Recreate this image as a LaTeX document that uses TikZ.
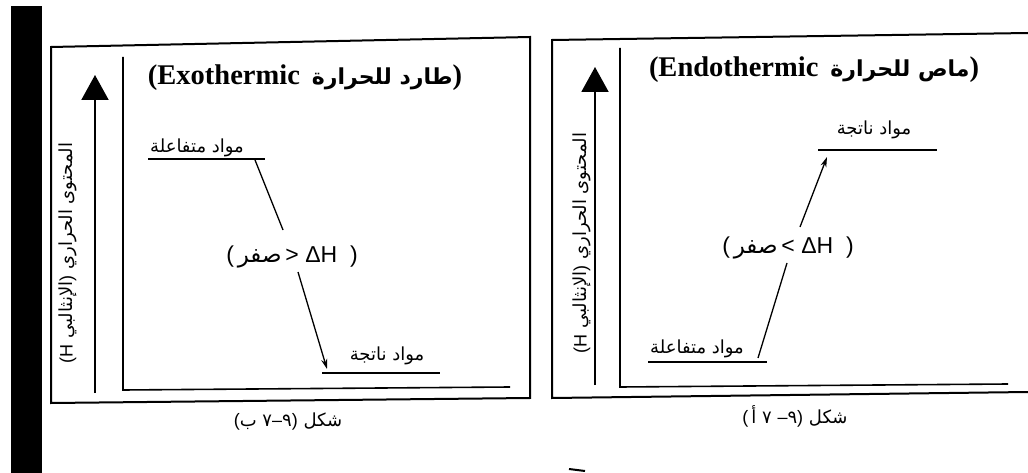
\documentclass[tikz,border=0pt]{standalone}
\usepackage{fontspec}
\setmainfont{Liberation Serif}
\newfontfamily\arabicfont[Script=Arabic]{DejaVu Sans}
\newfontfamily\sansf{Liberation Sans}
\TeXXeTstate=1
\usetikzlibrary{arrows.meta}
\begin{document}
\begin{tikzpicture}[x=1pt,y=-1pt,
  frameline/.style={line width=2pt},
  axisline/.style={line width=1.6pt},
  harrow/.style={line width=2pt,-{Triangle[length=25pt,width=27pt]}},
  lvl/.style={line width=1.3pt},
  linkline/.style={line width=1.3pt},
  linkarrow/.style={line width=1.3pt,-{Stealth[length=10pt,width=6pt]}},
  lbl/.style={inner sep=0pt,font=\arabicfont\fontsize{18}{21}\selectfont},
  ptitle/.style={inner sep=0pt,font=\bfseries\fontsize{28.5}{32}\selectfont},
  dhlabel/.style={inner sep=0pt,font=\sansf\fontsize{23}{26}\selectfont},
  ylab/.style={inner sep=0pt,rotate=90,font=\arabicfont\fontsize{18}{21}\selectfont},
  figcap/.style={inner sep=0pt,font=\arabicfont\fontsize{18}{21}\selectfont}
]
\useasboundingbox (0,0) rectangle (1028,473);
% scanned black margin
\fill (11,6) rectangle (42,473);
% small scan mark
\draw[line width=2pt] (569,469) -- (585,471);

% ---------------- left panel (Exothermic) ----------------
\draw[frameline] (530,37) -- (51,47) -- (51,403) -- (530,398) -- cycle;
\draw[axisline] (123,57) -- (123,390) -- (510,387);
\coordinate (la0) at (95,393);
\coordinate (la1) at (95,75);
\draw[harrow] (la0) -- (la1);
\node[ylab] (ly) at (68,253) {{\sansf(H}\ {\arabicfont الإنثالبي}{\sansf)}\ {\arabicfont\beginR المحتوى الحراري\endR}};
\node[ptitle] (lt) at (305,78) {(Exothermic\hspace{12pt}{\arabicfont\bfseries\fontsize{22}{26}\selectfont\beginR طارد للحرارة\endR})};

\node[lbl] (lrt) at (197,148) {\beginR مواد متفاعلة\endR};
\coordinate (lrl0) at (148,159);
\coordinate (lrl1) at (265,159);
\draw[lvl] (lrl0) -- (lrl1);
\node[lbl] (lpt) at (387,356) {\beginR مواد ناتجة\endR};
\coordinate (lpl0) at (322,373);
\coordinate (lpl1) at (440,373);
\draw[lvl] (lpl0) -- (lpl1);

\node[dhlabel] (ldh) at (292,257) {(\,{\arabicfont صفر}\,> ΔH \ )};
\coordinate (lr1) at (255,160);
\coordinate (lr2) at (283,230);
\coordinate (lp1) at (298,272);
\coordinate (lp2) at (327,369);
\draw[linkline] (lr1) -- (lr2);
\draw[linkarrow] (lp1) -- (lp2);

\node[figcap] (lc) at (288,422) {{\sansf(}{\arabicfont ب}\ {\arabicfont ٧}{\sansf –}{\arabicfont ٩}{\sansf)}\ {\arabicfont شكل}};

% ---------------- right panel (Endothermic) ----------------
\draw[frameline] (1028,33) -- (552,40) -- (552,398) -- (1028,392);
\draw[axisline] (620,48) -- (620,387) -- (1008,384);
\coordinate (ra0) at (595,385);
\coordinate (ra1) at (595,67);
\draw[harrow] (ra0) -- (ra1);
\node[ylab] (ry) at (582,243) {{\sansf(H}\ {\arabicfont الإنثالبي}{\sansf)}\ {\arabicfont\beginR المحتوى الحراري\endR}};
\node[ptitle] (rt) at (814,70) {(Endothermic\hspace{12pt}{\arabicfont\bfseries\fontsize{22}{26}\selectfont\beginR ماص للحرارة\endR})};

\node[lbl] (rpt) at (874,130) {\beginR مواد ناتجة\endR};
\coordinate (rpl0) at (818,150);
\coordinate (rpl1) at (937,150);
\draw[lvl] (rpl0) -- (rpl1);
\node[lbl] (rrt) at (697,349) {\beginR مواد متفاعلة\endR};
\coordinate (rrl0) at (648,362);
\coordinate (rrl1) at (767,362);
\draw[lvl] (rrl0) -- (rrl1);

\node[dhlabel] (rdh) at (788,248) {(\,{\arabicfont صفر}\,< ΔH \ )};
\coordinate (rr1) at (758,358);
\coordinate (rr2) at (787,263);
\coordinate (rp1) at (800,227);
\coordinate (rp2) at (827,157);
\draw[linkline] (rr1) -- (rr2);
\draw[linkarrow] (rp1) -- (rp2);

\node[figcap] (rc) at (795,416) {{\sansf(}\,{\arabicfont أ}\ {\arabicfont ٧}\ {\sansf –}{\arabicfont ٩}{\sansf)}\ {\arabicfont شكل}};
\end{tikzpicture}
\end{document}
